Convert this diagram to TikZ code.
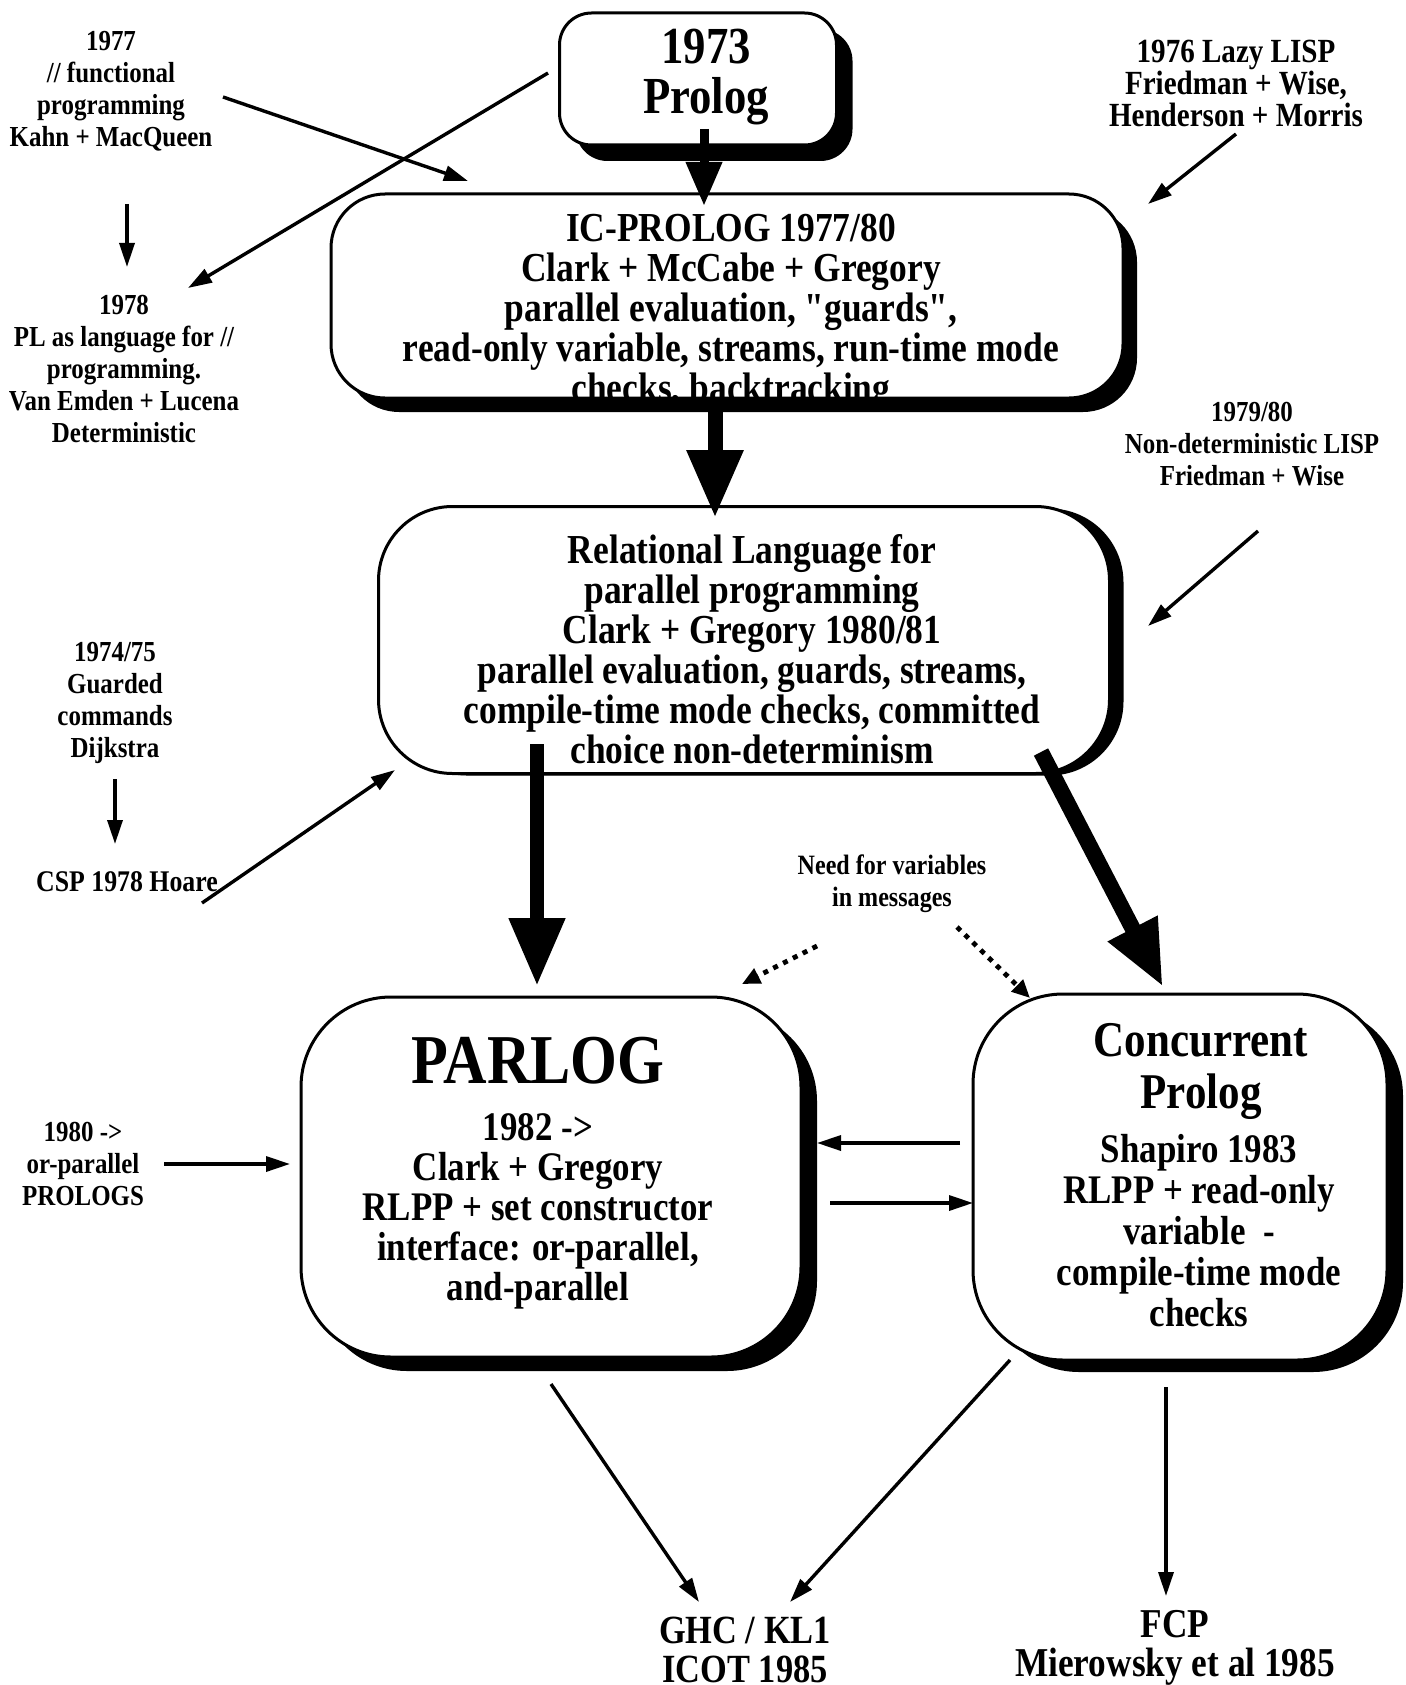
\documentclass[tikz,border=0pt]{standalone}
\usepackage{fontspec}
\setmainfont{Liberation Serif}[FakeStretch=0.86, Ligatures=TeXOff]
\usetikzlibrary{arrows.meta,shadows}
\begin{document}
\begin{tikzpicture}[x=0.5pt,y=-0.5pt,
  every node/.style={font=\bfseries, align=center, inner sep=0pt},
  box/.style={draw=black, line width=1.5pt, fill=white, rounded corners=#1},
  shd/.style 2 args={drop shadow={shadow xshift=#1, shadow yshift=-#2, opacity=1, fill=black}},
  arr/.style={line width=1.7pt, -{Triangle[length=12pt,width=7.5pt]}},
  dots/.style={line width=2.4pt, dash pattern=on 2.5pt off 3pt, -{Triangle[length=9pt,width=8pt]}},
  heavy/.style 2 args={line width=#1, -{Triangle[length=#2, width=0.78*#2]}},
  side/.style={font=\bfseries\fontsize{14.5}{16}\selectfont},
  body/.style={font=\bfseries\fontsize{20.6}{20}\selectfont},
]
\useasboundingbox (0,0) rectangle (1405,1685);

% ---- boxes ----
\node[box=16pt, shd={8pt}{8pt}, minimum width=138.5pt, minimum height=66pt] (prolog) at (698,79) {};
\node[box=27pt, shd={7pt}{7pt}, minimum width=396pt, minimum height=102pt] (ic) at (727,296) {};
\node[box=37pt, shd={7pt}{1pt}, minimum width=365.5pt, minimum height=133.5pt] (rl) at (744,640) {};
\node[box=45pt, shd={8pt}{7pt}, minimum width=250pt, minimum height=180pt] (parlog) at (551,1177) {};
\node[box=45pt, shd={8pt}{6pt}, minimum width=207pt, minimum height=183pt] (cp) at (1180,1177) {};

% ---- box texts ----
\node[font=\bfseries\fontsize{26}{25}\selectfont] (prologtxt) at (706,77) {1973\\Prolog};
\node[body] (ictxt) at (731,312) {IC-PROLOG 1977/80\\Clark + McCabe + Gregory\\parallel evaluation, "guards",\\read-only variable, streams, run-time mode\\checks, backtracking};
\node[body] (rltxt) at (752,649) {Relational Language for\\parallel programming\\Clark + Gregory 1980/81\\parallel evaluation, guards, streams,\\compile-time mode checks, committed\\choice non-determinism};
\node[font=\bfseries\fontsize{35}{36}\selectfont] (parlogtitle) at (538,1061) {PARLOG};
\node[font=\bfseries\fontsize{20.3}{20}\selectfont] (parlogtxt) at (538,1211) {1982 ->\\Clark + Gregory\\RLPP + set constructor\\interface: or-parallel,\\and-parallel};
\node[font=\bfseries\fontsize{25}{26}\selectfont] (cptitle) at (1201,1071) {Concurrent\\Prolog};
\node[font=\bfseries\fontsize{20.3}{20.5}\selectfont] (cptxt) at (1199,1231) {Shapiro 1983\\RLPP + read-only\\variable\ \ -\\compile-time mode\\checks};

% ---- side notes ----
\node[side] (n1977) at (111,91) {1977\\// functional\\programming\\Kahn + MacQueen};
\node[side] (n1978) at (124,369) {1978\\PL as language for //\\programming.\\Van Emden + Lucena\\Deterministic};
\node[font=\bfseries\fontsize{16.9}{16}\selectfont] (n1976) at (1236,83) {1976 Lazy LISP\\Friedman + Wise,\\Henderson + Morris};
\node[side] (n1979) at (1252,444) {1979/80\\Non-deterministic LISP\\Friedman + Wise};
\node[side] (n1974) at (115,703) {1974/75\\Guarded\\commands\\Dijkstra};
\node[font=\bfseries\fontsize{15}{16}\selectfont] (csp) at (127,882) {CSP 1978 Hoare};
\node[side] (n1980) at (83,1164) {1980 ->\\or-parallel\\PROLOGS};
\node[font=\bfseries\fontsize{14}{16}\selectfont] (need) at (892,884) {Need for variables\\in messages};
\node[font=\bfseries\fontsize{20}{19.5}\selectfont] (ghc) at (745,1650) {GHC / KL1\\ICOT 1985};
\node[font=\bfseries\fontsize{20.5}{19.5}\selectfont] (fcp) at (1175,1648) {FCP\\Mierowsky et al 1985};

% ---- connector end points ----
\coordinate (a1s) at (223,97);   \coordinate (a1e) at (468,181);
\coordinate (a2s) at (548,73);   \coordinate (a2e) at (188,288);
\coordinate (a3s) at (127,204);  \coordinate (a3e) at (127,267);
\coordinate (a4s) at (1236,134); \coordinate (a4e) at (1148,204);
\coordinate (a5s) at (1258,531); \coordinate (a5e) at (1148,626);
\coordinate (a6s) at (115,779);  \coordinate (a6e) at (115,844);
\coordinate (a7s) at (202,903);  \coordinate (a7e) at (395,770);
\coordinate (a8s) at (164,1164); \coordinate (a8e) at (290,1164);
\coordinate (a9s) at (960,1143); \coordinate (a9e) at (817,1143);
\coordinate (a10s) at (830,1203); \coordinate (a10e) at (973,1203);
\coordinate (a11s) at (551,1384); \coordinate (a11e) at (699,1602);
\coordinate (a12s) at (1010,1360); \coordinate (a12e) at (790,1602);
\coordinate (a13s) at (1166,1387); \coordinate (a13e) at (1166,1596);
\coordinate (t1s) at (704,129);  \coordinate (t1e) at (704,206);
\coordinate (t2s) at (715,410);  \coordinate (t2e) at (715,518);
\coordinate (t3s) at (537,744);  \coordinate (t3e) at (537,986);
\coordinate (t4s) at (1041,752); \coordinate (t4e) at (1163,987);
\coordinate (d1s) at (817,946);  \coordinate (d1e) at (742,984);
\coordinate (d2s) at (957,927);  \coordinate (d2e) at (1030,998);

% ---- thin connectors ----
\draw[arr] (a1s) -- (a1e);
\draw[arr] (a2s) -- (a2e);
\draw[arr] (a3s) -- (a3e);
\draw[arr] (a4s) -- (a4e);
\draw[arr] (a5s) -- (a5e);
\draw[arr] (a6s) -- (a6e);
\draw[arr] (a7s) -- (a7e);
\draw[arr] (a8s) -- (a8e);
\draw[arr] (a9s) -- (a9e);
\draw[arr] (a10s) -- (a10e);
\draw[arr] (a11s) -- (a11e);
\draw[arr] (a12s) -- (a12e);
\draw[arr] (a13s) -- (a13e);

% ---- heavy lineage arrows ----
\draw[heavy={4.5pt}{22pt}] (t1s) -- (t1e);
\draw[heavy={7.5pt}{34pt}] (t2s) -- (t2e);
\draw[heavy={7pt}{34pt}] (t3s) -- (t3e);
\draw[heavy={8pt}{33pt}] (t4s) -- (t4e);

% ---- dotted hints ----
\draw[dots] (d1s) -- (d1e);
\draw[dots] (d2s) -- (d2e);
\end{tikzpicture}
\end{document}
